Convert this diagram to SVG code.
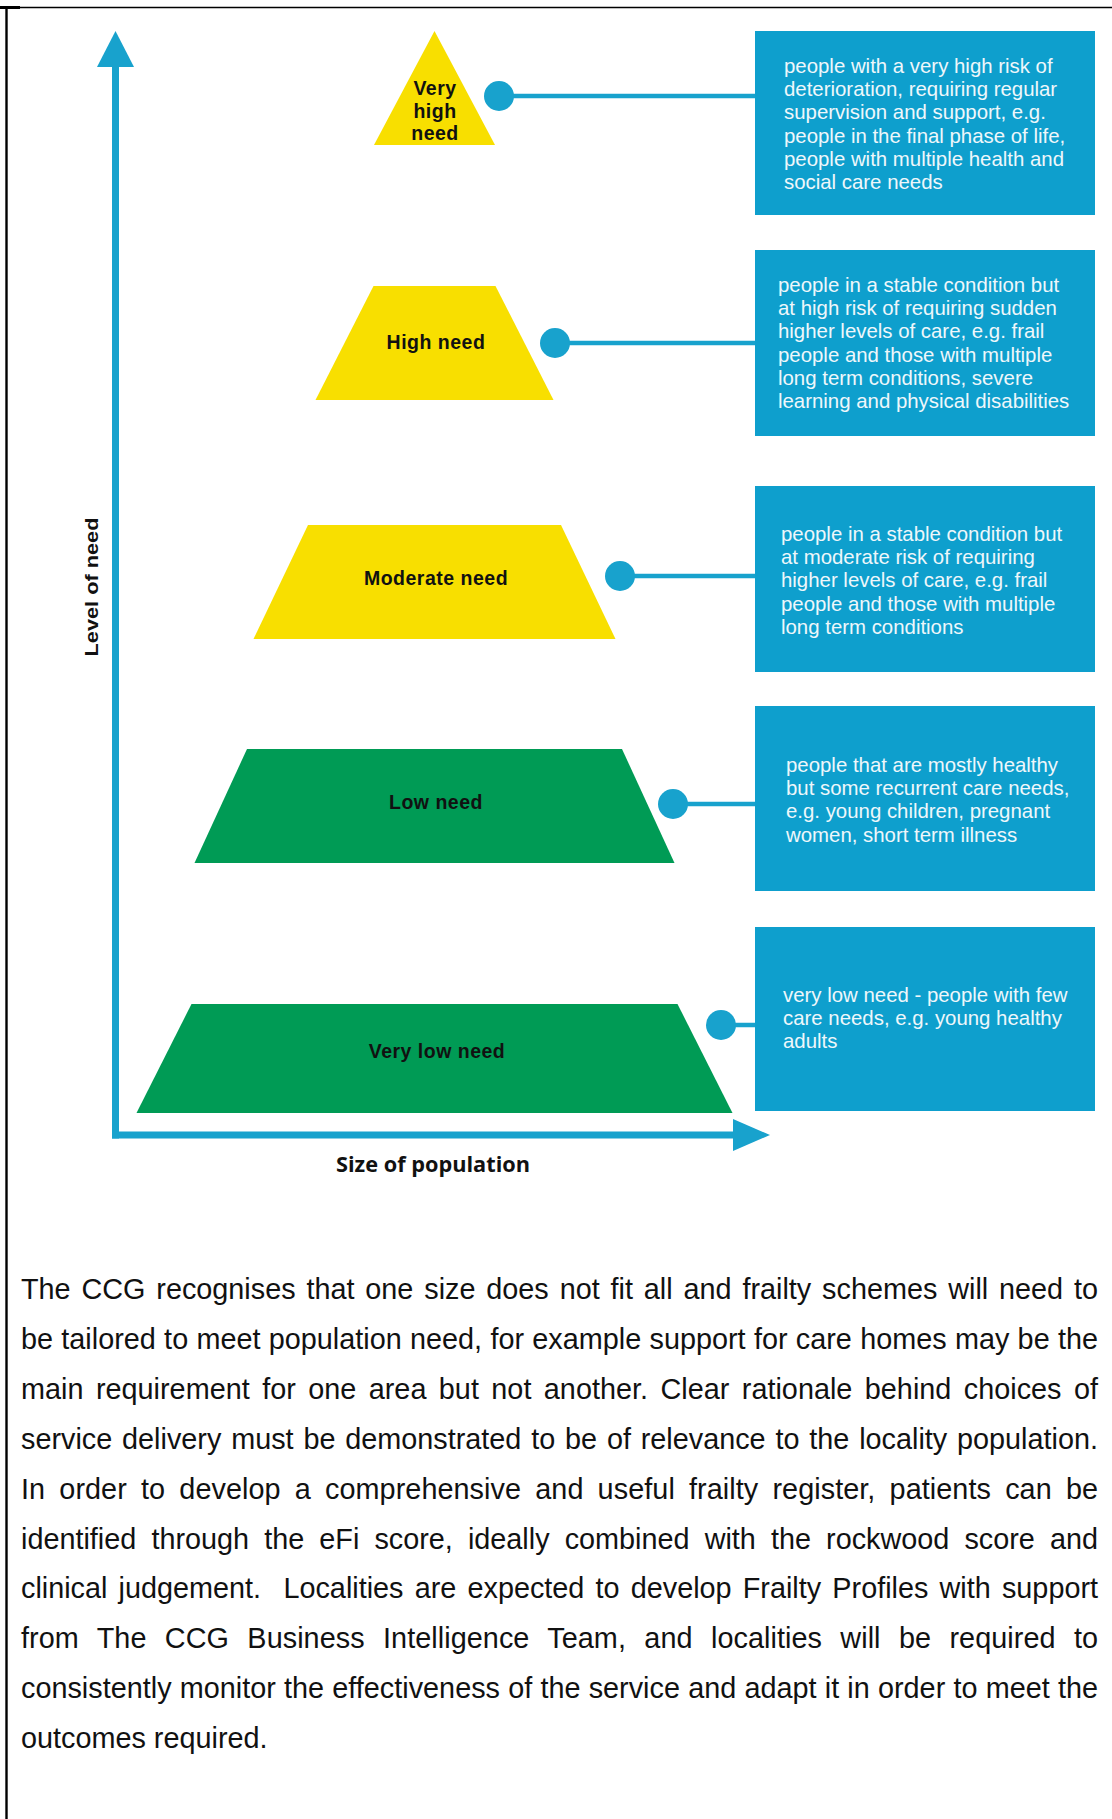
<svg xmlns="http://www.w3.org/2000/svg" width="1112" height="1819" viewBox="0 0 1112 1819">
  <style>
    .axis { stroke: #18a2cd; stroke-width: 7; fill: none; }
    .axis-head { fill: #18a2cd; }
    .yellow { fill: #f8df00; }
    .green { fill: #009b55; }
    .tier { font-family: "Liberation Sans", Arial, sans-serif; font-weight: bold; font-size: 19.5px; fill: #111; text-anchor: middle; letter-spacing: 0.5px; }
    .box { fill: #0e9fcd; }
    .box-text { font-family: "Liberation Sans", Arial, sans-serif; font-size: 20.4px; fill: #eef7fb; }
    .link { stroke: #18a2cd; stroke-width: 4.5; }
    .dot { fill: #18a2cd; }
    .axis-label { font-weight: bold; fill: #111; text-anchor: middle; }
    .para { font-family: "Liberation Sans", Arial, sans-serif; font-size: 28.8px; fill: #111; }
  </style>

  <!-- page frame -->
  <rect x="0" y="0" width="1112" height="1819" fill="#ffffff"/>
  <rect x="0" y="6" width="20" height="3" fill="#000"/>
  <line x1="7" y1="7.5" x2="1112" y2="7.5" stroke="#000" stroke-width="1.4"/>
  <line x1="6.5" y1="6" x2="6.5" y2="1819" stroke="#000" stroke-width="2.4"/>

  <!-- axes -->
  <g id="axes">
    <line class="axis" x1="115.5" y1="62" x2="115.5" y2="1138.5"/>
    <polygon class="axis-head" points="115.5,31 97,67 134,67"/>
    <line class="axis" x1="112" y1="1135" x2="740" y2="1135"/>
    <polygon class="axis-head" points="770,1135 733,1119 733,1151"/>
    <text class="axis-label" transform="translate(98,587) rotate(-90)" font-family="Liberation Sans, Arial, sans-serif" font-size="19" textLength="139" lengthAdjust="spacingAndGlyphs">Level of need</text>
    <text class="axis-label" x="433" y="1172" font-family="Open Sans, Liberation Sans, sans-serif" font-size="22" textLength="194" lengthAdjust="spacingAndGlyphs">Size of population</text>
  </g>

  <!-- connectors -->
  <g id="connectors">
    <line class="link" x1="499" y1="96" x2="756" y2="96"/>
    <circle class="dot" cx="499" cy="96" r="15"/>
    <line class="link" x1="555" y1="343" x2="756" y2="343"/>
    <circle class="dot" cx="555" cy="343" r="15"/>
    <line class="link" x1="620" y1="576" x2="756" y2="576"/>
    <circle class="dot" cx="620" cy="576" r="15"/>
    <line class="link" x1="673" y1="804" x2="756" y2="804"/>
    <circle class="dot" cx="673" cy="804" r="15"/>
    <line class="link" x1="721" y1="1025" x2="756" y2="1025"/>
    <circle class="dot" cx="721" cy="1025" r="15"/>
  </g>

  <!-- pyramid tiers -->
  <g id="tier-very-high">
    <polygon class="yellow" points="434.5,31 495,145 374,145"/>
    <text class="tier" x="435" y="95">Very</text>
    <text class="tier" x="435" y="118">high</text>
    <text class="tier" x="435" y="140">need</text>
  </g>
  <g id="tier-high">
    <polygon class="yellow" points="373.5,286 495.5,286 553.5,400 315.5,400"/>
    <text class="tier" x="436" y="349">High need</text>
  </g>
  <g id="tier-moderate">
    <polygon class="yellow" points="308,525 561,525 615.5,639 253.5,639"/>
    <text class="tier" x="436" y="585">Moderate need</text>
  </g>
  <g id="tier-low">
    <polygon class="green" points="247,749 622,749 674.5,863 194.5,863"/>
    <text class="tier" x="436" y="809">Low need</text>
  </g>
  <g id="tier-very-low">
    <polygon class="green" points="191.5,1004 677.5,1004 732.5,1113 136.5,1113"/>
    <text class="tier" x="437" y="1058">Very low need</text>
  </g>

  <!-- description boxes -->
  <g id="desc-very-high">
    <rect class="box" x="755" y="31" width="340" height="184"/>
    <text class="box-text" x="784" y="73">
      <tspan x="784">people with a very high risk of</tspan>
      <tspan x="784" dy="23.2">deterioration, requiring regular</tspan>
      <tspan x="784" dy="23.2">supervision and support, e.g.</tspan>
      <tspan x="784" dy="23.2">people in the final phase of life,</tspan>
      <tspan x="784" dy="23.2">people with multiple health and</tspan>
      <tspan x="784" dy="23.2">social care needs</tspan>
    </text>
  </g>
  <g id="desc-high">
    <rect class="box" x="755" y="250" width="340" height="186"/>
    <text class="box-text" x="778" y="292">
      <tspan x="778">people in a stable condition but</tspan>
      <tspan x="778" dy="23.2">at high risk of requiring sudden</tspan>
      <tspan x="778" dy="23.2">higher levels of care, e.g. frail</tspan>
      <tspan x="778" dy="23.2">people and those with multiple</tspan>
      <tspan x="778" dy="23.2">long term conditions, severe</tspan>
      <tspan x="778" dy="23.2">learning and physical disabilities</tspan>
    </text>
  </g>
  <g id="desc-moderate">
    <rect class="box" x="755" y="486" width="340" height="186"/>
    <text class="box-text" x="781" y="541">
      <tspan x="781">people in a stable condition but</tspan>
      <tspan x="781" dy="23.2">at moderate risk of requiring</tspan>
      <tspan x="781" dy="23.2">higher levels of care, e.g. frail</tspan>
      <tspan x="781" dy="23.2">people and those with multiple</tspan>
      <tspan x="781" dy="23.2">long term conditions</tspan>
    </text>
  </g>
  <g id="desc-low">
    <rect class="box" x="755" y="706" width="340" height="185"/>
    <text class="box-text" x="786" y="772">
      <tspan x="786">people that are mostly healthy</tspan>
      <tspan x="786" dy="23.2">but some recurrent care needs,</tspan>
      <tspan x="786" dy="23.2">e.g. young children, pregnant</tspan>
      <tspan x="786" dy="23.2">women, short term illness</tspan>
    </text>
  </g>
  <g id="desc-very-low">
    <rect class="box" x="755" y="927" width="340" height="184"/>
    <text class="box-text" x="783" y="1002">
      <tspan x="783">very low need - people with few</tspan>
      <tspan x="783" dy="23.2">care needs, e.g. young healthy</tspan>
      <tspan x="783" dy="23.2">adults</tspan>
    </text>
  </g>

  <!-- body paragraph, justified line by line -->
  <g id="paragraph" class="para">
    <text x="21" y="1299" word-spacing="2.9" textLength="1077" lengthAdjust="spacing">The CCG recognises that one size does not fit all and frailty schemes will need to</text>
    <text x="21" y="1348.9" word-spacing="0.3" textLength="1077" lengthAdjust="spacing">be tailored to meet population need, for example support for care homes may be the</text>
    <text x="21" y="1398.8" word-spacing="4.4" textLength="1077" lengthAdjust="spacing">main requirement for one area but not another. Clear rationale behind choices of</text>
    <text x="21" y="1448.7" word-spacing="1.8" textLength="1077" lengthAdjust="spacing">service delivery must be demonstrated to be of relevance to the locality population.</text>
    <text x="21" y="1498.6" word-spacing="6.1" textLength="1077" lengthAdjust="spacing">In order to develop a comprehensive and useful frailty register, patients can be</text>
    <text x="21" y="1548.5" word-spacing="7.1" textLength="1077" lengthAdjust="spacing">identified through the eFi score, ideally combined with the rockwood score and</text>
    <text x="21" y="1598.4" word-spacing="3.2" textLength="1077" lengthAdjust="spacing" xml:space="preserve">clinical judgement.  Localities are expected to develop Frailty Profiles with support</text>
    <text x="21" y="1648.3" word-spacing="10.3" textLength="1077" lengthAdjust="spacing">from The CCG Business Intelligence Team, and localities will be required to</text>
    <text x="21" y="1698.2" word-spacing="0.2" textLength="1077" lengthAdjust="spacing">consistently monitor the effectiveness of the service and adapt it in order to meet the</text>
    <text x="21" y="1748">outcomes required.</text>
  </g>
</svg>
